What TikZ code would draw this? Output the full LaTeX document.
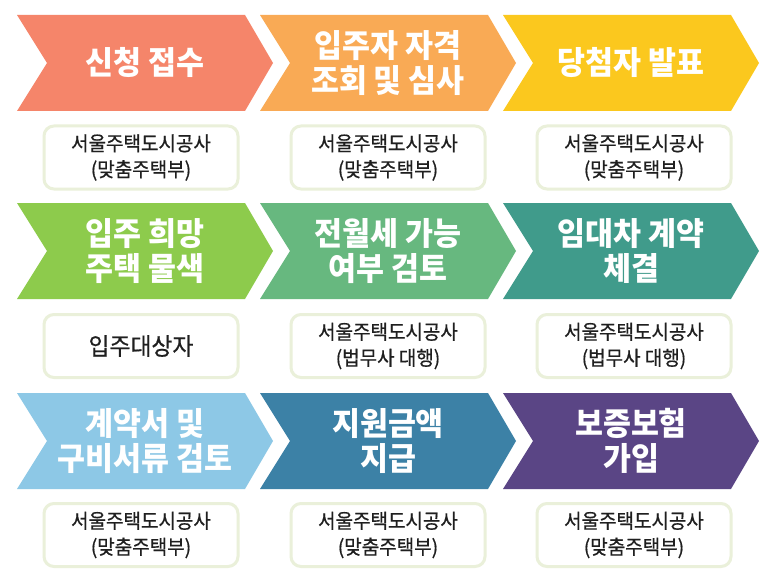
\documentclass[tikz,border=0pt]{standalone}
\usepackage{fontspec}
\newfontfamily\kr{Noto Sans CJK KR}[FakeStretch=0.95]
\newfontfamily\krm{Noto Sans CJK KR}[FakeStretch=0.95,FakeBold=0.6]
\definecolor{cA}{HTML}{F5856A}
\definecolor{cB}{HTML}{F9AA55}
\definecolor{cC}{HTML}{FBC81E}
\definecolor{cD}{HTML}{8DCB4C}
\definecolor{cE}{HTML}{67B87F}
\definecolor{cF}{HTML}{409B8B}
\definecolor{cG}{HTML}{8DC8E6}
\definecolor{cH}{HTML}{3C81A6}
\definecolor{cI}{HTML}{5A4585}
\definecolor{boxline}{HTML}{EAF0DA}
\tikzset{
  chevtext/.style={text=white, font=\kr\bfseries\fontsize{32}{35}\selectfont, align=center, inner sep=0pt},
  infobox/.style={draw=boxline, line width=3pt, fill=white, rounded corners=10pt, minimum width=194pt, minimum height=63pt, font=\krm\fontsize{20}{26}\selectfont, align=center, text=black!88, inner sep=0pt}
}
\newcommand\mychev[3]{\fill[#3] (#1,#2) -- ++(228,0) -- ++(28,48) -- ++(-28,48) -- ++(-228,0) -- ++(30,-48) -- cycle;}
\begin{document}
\begin{tikzpicture}[x=1pt,y=-1pt]
\useasboundingbox (0,0) rectangle (773,583);
\fill[white] (0,0) rectangle (773,583);
% row 1
\mychev{17}{15}{cA}
\mychev{260}{15}{cB}
\mychev{503}{15}{cC}
\node[chevtext] (s1) at (145,63) {신청 접수};
\node[chevtext] (s2) at (388,63) {입주자 자격\\조회 및 심사};
\node[chevtext] (s3) at (631,63) {당첨자 발표};
\node[infobox] (b1) at (141,157.5) {서울주택도시공사\\(맞춤주택부)};
\node[infobox] (b2) at (388,157.5) {서울주택도시공사\\(맞춤주택부)};
\node[infobox] (b3) at (634,157.5) {서울주택도시공사\\(맞춤주택부)};
% row 2
\mychev{17}{203}{cD}
\mychev{260}{203}{cE}
\mychev{503}{203}{cF}
\node[chevtext] (s4) at (145,251) {입주 희망\\주택 물색};
\node[chevtext] (s5) at (388,251) {전월세 가능\\여부 검토};
\node[chevtext] (s6) at (631,251) {임대차 계약\\체결};
\node[infobox, font=\krm\fontsize{24}{28}\selectfont] (b4) at (141,346) {입주대상자};
\node[infobox] (b5) at (388,346) {서울주택도시공사\\(법무사 대행)};
\node[infobox] (b6) at (634,346) {서울주택도시공사\\(법무사 대행)};
% row 3
\mychev{17}{393}{cG}
\mychev{260}{393}{cH}
\mychev{503}{393}{cI}
\node[chevtext] (s7) at (145,441) {계약서 및\\구비서류 검토};
\node[chevtext] (s8) at (388,441) {지원금액\\지급};
\node[chevtext] (s9) at (631,441) {보증보험\\가입};
\node[infobox] (b7) at (141,535) {서울주택도시공사\\(맞춤주택부)};
\node[infobox] (b8) at (388,535) {서울주택도시공사\\(맞춤주택부)};
\node[infobox] (b9) at (634,535) {서울주택도시공사\\(맞춤주택부)};
\end{tikzpicture}
\end{document}
